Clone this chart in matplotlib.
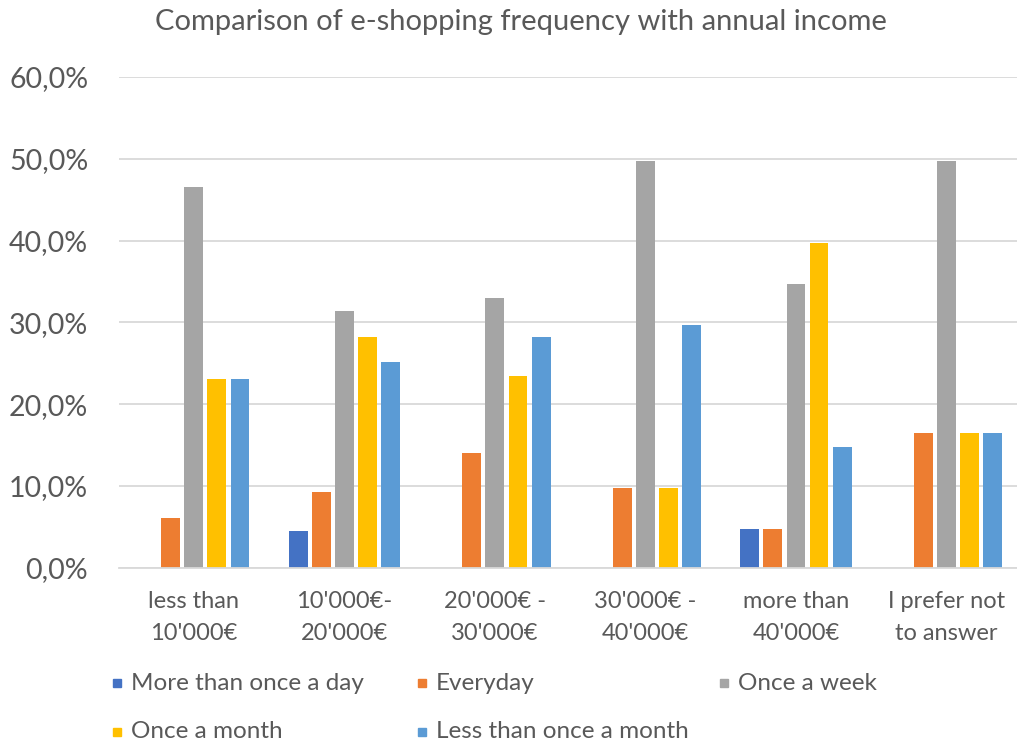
import matplotlib.pyplot as plt
from matplotlib.patches import Rectangle
import numpy as np

plt.rcParams['font.family'] = ['Lato', 'DejaVu Sans']

categories = ["less than\n10'000€", "10'000€-\n20'000€", "20'000€ -\n30'000€",
              "30'000€ -\n40'000€", "more than\n40'000€", "I prefer not\nto answer"]
series_names = ["More than once a day", "Everyday", "Once a week",
                "Once a month", "Less than once a month"]
more_than_once_day = [0.0, 4.5, 0.0, 0.0, 4.7, 0.0]
everyday = [6.1, 9.3, 14.0, 9.8, 4.7, 16.5]
once_week = [46.5, 31.4, 33.0, 49.7, 34.7, 49.7]
once_month = [23.1, 28.2, 23.5, 9.8, 39.7, 16.5]
less_than_month = [23.1, 25.1, 28.2, 29.7, 14.8, 16.5]
series = [more_than_once_day, everyday, once_week, once_month, less_than_month]
colors = ['#4472C4', '#ED7D31', '#A5A5A5', '#FFC000', '#5B9BD5']
text_col = '#595959'

W, H = 1017, 745
fig = plt.figure(figsize=(W / 100, H / 100), dpi=100)
ax = fig.add_axes([118.7 / W, 1 - 567.7 / H, (1021.75 - 118.7) / W, (567.7 - 77) / H])

x = np.arange(len(categories))
step, width = 0.153, 0.126
for i, (vals, c) in enumerate(zip(series, colors)):
    ax.bar(x + (i - 2) * step, np.array(vals) / 100, width, color=c, zorder=2)

ax.set_xlim(-0.5, len(categories) - 0.5)
ax.set_ylim(0, 0.6)
ax.set_yticks(np.arange(0, 0.61, 0.1))
ax.set_yticklabels([f"{v:.1f}%".replace('.', ',') for v in np.arange(0, 61, 10)])
ax.set_xticks(x)
ax.set_xticklabels(categories, linespacing=1.6)
ax.tick_params(axis='y', length=0, pad=22, labelsize=20.5, labelcolor=text_col)
ax.tick_params(axis='x', length=0, pad=17, labelsize=17, labelcolor=text_col)
ax.yaxis.grid(True, color='#D9D9D9', linewidth=1.3, zorder=0)
ax.set_axisbelow(True)
for s in ['top', 'right', 'left']:
    ax.spines[s].set_visible(False)
ax.spines['bottom'].set_color('#D9D9D9')
ax.spines['bottom'].set_linewidth(1.3)

fig.text(521 / W, 1 - 22 / H, "Comparison of e-shopping frequency with annual income",
         ha='center', va='center', fontsize=21, color=text_col)

# legend laid out like the original (row-major, fixed column positions)
col_x = [113, 418, 720]
row_y = [683, 732]
for k, (name, c) in enumerate(zip(series_names, colors)):
    cx = col_x[k % 3]
    cy = row_y[k // 3]
    fig.patches.append(Rectangle((cx / W, 1 - (cy + 4) / H), 8 / W, 8 / H,
                                 transform=fig.transFigure, color=c))
    fig.text((cx + 18) / W, 1 - cy / H, name, ha='left', va='center',
             fontsize=17.5, color=text_col)

fig.savefig('out.png', dpi=100)
